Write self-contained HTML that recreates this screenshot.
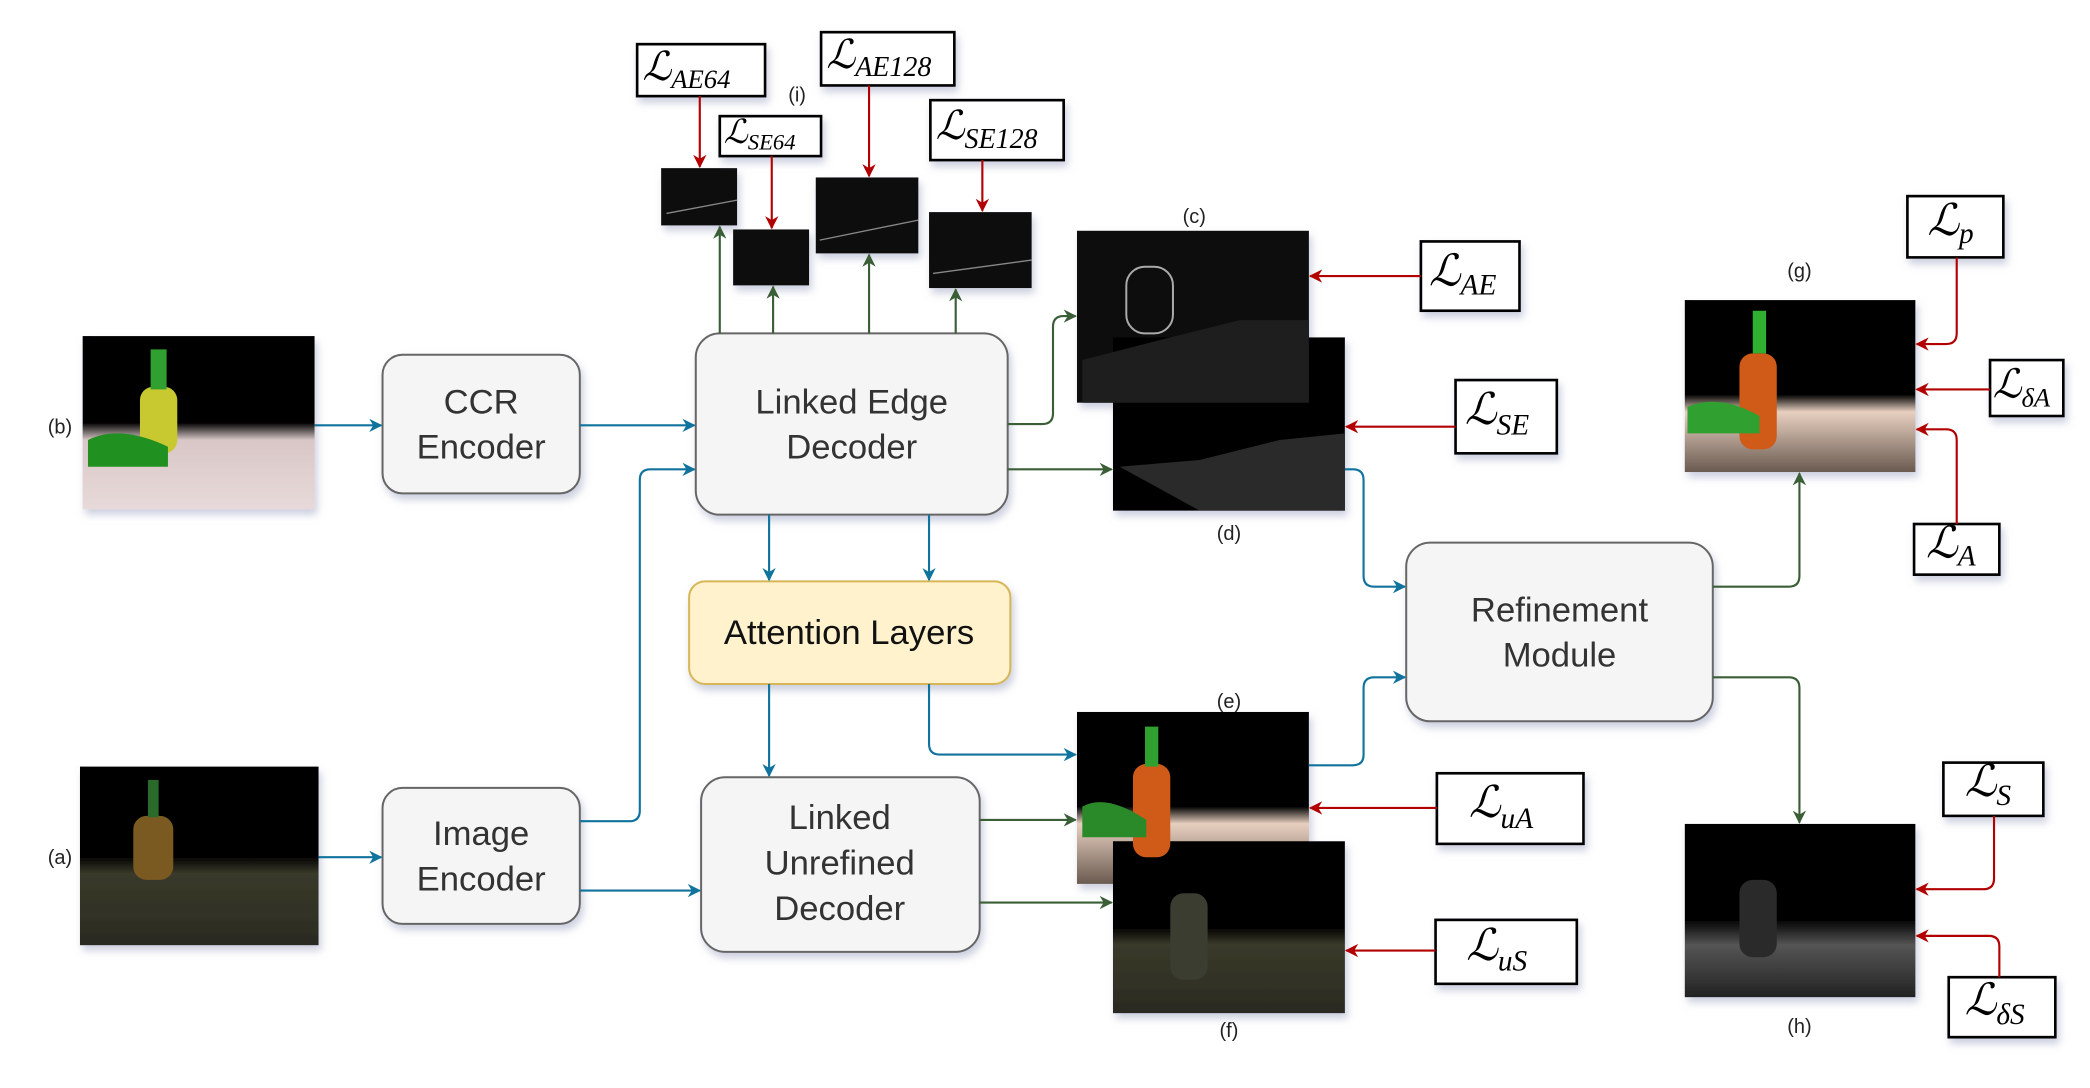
<!DOCTYPE html>
<html><head><meta charset="utf-8"><style>
html,body{margin:0;padding:0;background:#fff}
svg{display:block}
.bx{font-family:"Liberation Sans",sans-serif;font-size:26px;fill:#333;text-anchor:middle}
.lb{font-family:"Liberation Sans",sans-serif;font-size:15px;fill:#222;text-anchor:middle}
.ls{font-family:"Liberation Serif",serif;font-style:italic;fill:#000}
</style></head><body>
<svg width="2090" height="1088" viewBox="0 0 1568 816" xmlns="http://www.w3.org/2000/svg">
<defs>
<marker id="ab" markerWidth="10" markerHeight="10" refX="9" refY="5" orient="auto" markerUnits="userSpaceOnUse"><path d="M0,0 L10,5 L0,10 L3,5z" fill="#10739e"/></marker>
<marker id="ag" markerWidth="10" markerHeight="10" refX="9" refY="5" orient="auto" markerUnits="userSpaceOnUse"><path d="M0,0 L10,5 L0,10 L3,5z" fill="#3a5e36"/></marker>
<marker id="ar" markerWidth="10" markerHeight="10" refX="9" refY="5" orient="auto" markerUnits="userSpaceOnUse"><path d="M0,0 L10,5 L0,10 L3,5z" fill="#b20000"/></marker>
<linearGradient id="gb" x1="0" y1="0" x2="0" y2="1"><stop offset="0.5" stop-color="#000"/><stop offset="0.6" stop-color="#d9c7c7"/><stop offset="1" stop-color="#e8dada"/></linearGradient>
<linearGradient id="ga" x1="0" y1="0" x2="0" y2="1"><stop offset="0.5" stop-color="#000"/><stop offset="0.6" stop-color="#3a3a2a"/><stop offset="1" stop-color="#2a2a22"/></linearGradient>
<linearGradient id="gg" x1="0" y1="0" x2="0" y2="1"><stop offset="0.55" stop-color="#000"/><stop offset="0.65" stop-color="#e8d0c0"/><stop offset="1" stop-color="#6a5a50"/></linearGradient>
<linearGradient id="gh" x1="0" y1="0" x2="0" y2="1"><stop offset="0.55" stop-color="#000"/><stop offset="0.7" stop-color="#555"/><stop offset="1" stop-color="#222"/></linearGradient>
<filter id="sh" x="-10%" y="-10%" width="130%" height="130%"><feDropShadow dx="2" dy="4" stdDeviation="3" flood-color="#9aa0c0" flood-opacity="0.5"/></filter>
</defs>

<g filter="url(#sh)">
<rect x="62" y="252" width="174" height="130" fill="url(#gb)"/>
<rect x="60" y="575" width="179" height="134" fill="url(#ga)"/>
<rect x="496" y="126" width="57" height="43" fill="#111"/>
<rect x="550" y="172" width="57" height="42" fill="#0a0a0a"/>
<rect x="612" y="133" width="77" height="57" fill="#111"/>
<rect x="697" y="159" width="77" height="57" fill="#0a0a0a"/>
<rect x="808" y="173" width="174" height="129" fill="#080808"/>
<rect x="835" y="253" width="174" height="130" fill="#050505"/>
<rect x="1264" y="225" width="173" height="129" fill="url(#gg)"/>
<rect x="808" y="534" width="174" height="129" fill="url(#gg)"/>
<rect x="835" y="631" width="174" height="129" fill="url(#ga)"/>
<rect x="1264" y="618" width="173" height="130" fill="url(#gh)"/>
</g>
<rect x="105" y="290" width="28" height="50" rx="10" fill="#c8c830"/><rect x="113" y="262" width="12" height="30" fill="#30a030"/><path d="M66,330 Q90,318 126,335 L126,350 L66,350z" fill="#209020"/>
<rect x="100" y="612" width="30" height="48" rx="10" fill="#7a5a20"/><rect x="111" y="585" width="8" height="28" fill="#2a6a2a"/>
<rect x="1305" y="265" width="28" height="72" rx="10" fill="#d05a18"/><rect x="1315" y="233" width="10" height="32" fill="#30b030"/><path d="M1266,305 Q1290,295 1320,312 L1320,325 L1266,325z" fill="#30a030"/>
<rect x="850" y="573" width="28" height="70" rx="10" fill="#d05a18"/><rect x="859" y="545" width="10" height="30" fill="#30a030"/><path d="M812,605 Q830,595 860,615 L860,628 L812,628z" fill="#2a8a2a"/>
<rect x="878" y="670" width="28" height="65" rx="10" fill="#3a3d30"/>
<rect x="1305" y="660" width="28" height="58" rx="10" fill="#2a2a2a"/>
<path d="M840,350 L900,345 L960,330 L1009,325 L1009,383 L900,383z" fill="#2a2a2a"/>
<path d="M812,270 L870,255 L930,240 L982,240 L982,302 L812,302z" fill="#1e1e1e"/>
<rect x="845" y="200" width="35" height="50" rx="14" fill="none" stroke="#aaa" stroke-width="1.5"/>
<path d="M500,160 L553,150 M615,180 L689,165 M700,205 L774,195" stroke="#888" fill="none"/>

<g filter="url(#sh)" stroke-width="1.5">
<rect x="287" y="266" width="148" height="104" rx="15" fill="#f5f5f5" stroke="#666"/>
<rect x="522" y="250" width="234" height="136" rx="18" fill="#f5f5f5" stroke="#666"/>
<rect x="517" y="436" width="241" height="77" rx="12" fill="#fff2cc" stroke="#d6b656"/>
<rect x="287" y="591" width="148" height="102" rx="15" fill="#f5f5f5" stroke="#666"/>
<rect x="526" y="583" width="209" height="131" rx="18" fill="#f5f5f5" stroke="#666"/>
<rect x="1055" y="407" width="230" height="134" rx="18" fill="#f5f5f5" stroke="#666"/>
</g>
<text class="bx" x="361" y="310">CCR</text><text class="bx" x="361" y="344">Encoder</text>
<text class="bx" x="639" y="310">Linked Edge</text><text class="bx" x="639" y="344">Decoder</text>
<text class="bx" x="637" y="483" style="fill:#111">Attention Layers</text>
<text class="bx" x="361" y="634">Image</text><text class="bx" x="361" y="668">Encoder</text>
<text class="bx" x="630" y="622">Linked</text><text class="bx" x="630" y="656">Unrefined</text><text class="bx" x="630" y="690">Decoder</text>
<text class="bx" x="1170" y="466">Refinement</text><text class="bx" x="1170" y="500">Module</text>

<g class="lb">
<text x="45" y="325">(b)</text><text x="45" y="648">(a)</text><text x="598" y="76">(i)</text>
<text x="896" y="167">(c)</text><text x="922" y="405">(d)</text><text x="1350" y="208">(g)</text>
<text x="922" y="531">(e)</text><text x="922" y="778">(f)</text><text x="1350" y="775">(h)</text>
</g>

<g fill="#fff" stroke="#000" stroke-width="2" filter="url(#sh)">
<rect x="478" y="33" width="96" height="39"/>
<rect x="540" y="87" width="76" height="30"/>
<rect x="616" y="24" width="100" height="40"/>
<rect x="698" y="75" width="100" height="45"/>
<rect x="1066" y="181" width="74" height="52"/>
<rect x="1092" y="285" width="76" height="55"/>
<rect x="1431" y="147" width="72" height="46"/>
<rect x="1493" y="270" width="55" height="42"/>
<rect x="1436" y="393" width="64" height="38"/>
<rect x="1078" y="580" width="110" height="53"/>
<rect x="1077" y="690" width="106" height="48"/>
<rect x="1458" y="572" width="75" height="40"/>
<rect x="1462" y="733" width="80" height="45"/>
</g>
<g class="ls">
<text x="482" y="60" font-size="30">ℒ<tspan font-size="20" dy="6">AE64</tspan></text>
<text x="543" y="107" font-size="25">ℒ<tspan font-size="17" dy="5">SE64</tspan></text>
<text x="620" y="51" font-size="30">ℒ<tspan font-size="21" dy="6">AE128</tspan></text>
<text x="702" y="104" font-size="30">ℒ<tspan font-size="21" dy="7">SE128</tspan></text>
<text x="1072" y="214" font-size="33">ℒ<tspan font-size="22" dy="7">AE</tspan></text>
<text x="1099" y="318" font-size="33">ℒ<tspan font-size="22" dy="8">SE</tspan></text>
<text x="1446" y="176" font-size="33">ℒ<tspan font-size="22" dy="6">p</tspan></text>
<text x="1495" y="298" font-size="30">ℒ<tspan font-size="20" dy="7">δA</tspan></text>
<text x="1445" y="418" font-size="33">ℒ<tspan font-size="22" dy="6">A</tspan></text>
<text x="1102" y="613" font-size="33">ℒ<tspan font-size="22" dy="8">uA</tspan></text>
<text x="1100" y="720" font-size="33">ℒ<tspan font-size="22" dy="8">uS</tspan></text>
<text x="1474" y="597" font-size="33">ℒ<tspan font-size="22" dy="7">S</tspan></text>
<text x="1474" y="761" font-size="33">ℒ<tspan font-size="22" dy="7">δS</tspan></text>
</g>

<g stroke="#10739e" stroke-width="1.6" fill="none" marker-end="url(#ab)">
<path d="M236,319 H286"/>
<path d="M435,319 H521"/>
<path d="M239,643 H286"/>
<path d="M435,616 H472 Q480,616 480,608 V360 Q480,352 488,352 H521"/>
<path d="M435,668 H525"/>
<path d="M577,386 V435"/>
<path d="M697,386 V435"/>
<path d="M577,513 V582"/>
<path d="M697,513 V558 Q697,566 705,566 H807"/>
<path d="M1009,352 H1015 Q1023,352 1023,360 V432 Q1023,440 1031,440 H1054"/>
<path d="M982,574 H1015 Q1023,574 1023,566 V516 Q1023,508 1031,508 H1054"/>
</g>
<g stroke="#3a5e36" stroke-width="1.6" fill="none" marker-end="url(#ag)">
<path d="M540,250 V170"/>
<path d="M580,250 V215"/>
<path d="M652,250 V191"/>
<path d="M717,250 V217"/>
<path d="M756,318 H782 Q790,318 790,310 V245 Q790,237 798,237 H807"/>
<path d="M756,352 H834"/>
<path d="M735,615 H807"/>
<path d="M735,677 H834"/>
<path d="M1285,440 H1342 Q1350,440 1350,432 V355"/>
<path d="M1285,508 H1342 Q1350,508 1350,516 V617"/>
</g>
<g stroke="#b20000" stroke-width="1.6" fill="none" marker-end="url(#ar)">
<path d="M525,72 V125"/>
<path d="M579,117 V171"/>
<path d="M652,64 V132"/>
<path d="M737,120 V158"/>
<path d="M1066,207 H983"/>
<path d="M1092,320 H1010"/>
<path d="M1078,606 H983"/>
<path d="M1077,713 H1010"/>
<path d="M1468,193 V250 Q1468,258 1460,258 H1438"/>
<path d="M1493,292 H1438"/>
<path d="M1468,393 V330 Q1468,322 1460,322 H1438"/>
<path d="M1496,612 V659 Q1496,667 1488,667 H1438"/>
<path d="M1500,733 V710 Q1500,702 1492,702 H1438"/>
</g>
</svg>
</body></html>
